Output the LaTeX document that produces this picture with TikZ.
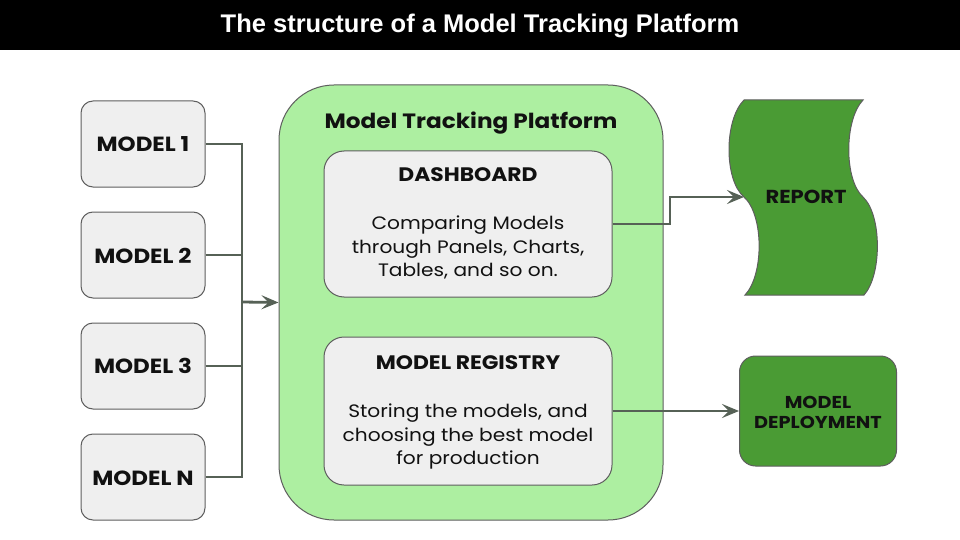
\documentclass[tikz,border=0pt]{standalone}
\usepackage{fontspec}
\setmainfont{Poppins}[FakeStretch=1.12]
\newfontfamily\titlefont{Liberation Sans}
\usetikzlibrary{arrows.meta}
\definecolor{lgreen}{HTML}{ADEFA1}
\definecolor{dgreen}{HTML}{4A9B34}
\definecolor{boxgray}{HTML}{EFEFEF}
\definecolor{edgegray}{HTML}{5E5E5E}
\definecolor{conncol}{HTML}{566156}
\definecolor{txt}{HTML}{111111}
\tikzset{
  modelbox/.style={draw=edgegray, line width=1pt, fill=boxgray, rounded corners=12pt,
    minimum width=124pt, minimum height=86pt, inner sep=0pt},
  modellabel/.style={text=txt, anchor=base, inner sep=0pt,
    font=\bfseries\fontsize{20.5}{24}\selectfont},
  innerbox/.style={draw=edgegray, line width=1pt, fill=boxgray, rounded corners=20pt,
    minimum width=288pt, inner sep=0pt},
  boxtitle/.style={text=txt, anchor=base, font=\bfseries\fontsize{19.5}{23}\selectfont, inner sep=0pt},
  boxbody/.style={text=txt, anchor=base, font=\fontsize{18}{24}\selectfont, inner sep=0pt},
  darklabel/.style={text=txt, anchor=base, inner sep=0pt},
  conn/.style={draw=conncol, line width=2.8pt},
  arr/.style={conn, -{Stealth[length=17pt,width=14pt,inset=7pt]}},
}
\begin{document}
\begin{tikzpicture}[x=1pt,y=-1pt]
\useasboundingbox (0,0) rectangle (960,540);
\fill[white] (0,0) rectangle (960,540);
\fill[black] (0,0) rectangle (960,50);
\node[font=\titlefont\bfseries\fontsize{25.5}{30}\selectfont, text=white, anchor=base, inner sep=0pt] (title) at (480,33) {The structure of a Model Tracking Platform};

% platform
\node[draw=edgegray, line width=1pt, fill=lgreen, rounded corners=55pt,
  minimum width=384pt, minimum height=435pt, inner sep=0pt] (plat) at (471,302.5) {};
\node[darklabel, font=\bfseries\fontsize{20.7}{24}\selectfont] (plattitle) at (471,129) {Model Tracking Platform};

% dashboard
\node[innerbox, minimum height=146pt] (dash) at (468,224) {};
\node[boxtitle] (dashtitle) at (468,182) {DASHBOARD};
\node[boxbody] (dashb1) at (468,229) {Comparing Models};
\node[boxbody] (dashb2) at (468,253) {through Panels, Charts,};
\node[boxbody] (dashb3) at (468,276) {Tables, and so on.};

% registry
\node[innerbox, minimum height=148pt] (reg) at (468,411) {};
\node[boxtitle] (regtitle) at (468,369) {MODEL REGISTRY};
\node[boxbody] (regb1) at (468,417) {Storing the models, and};
\node[boxbody] (regb2) at (468,441) {choosing the best model};
\node[boxbody] (regb3) at (468,464) {for production};

% models
\node[modelbox] (m1) at (143,144) {};
\node[modelbox] (m2) at (143,255) {};
\node[modelbox] (m3) at (143,366) {};
\node[modelbox] (mn) at (143,477) {};
\node[modellabel] (m1t) at (143,152) {MODEL 1};
\node[modellabel] (m2t) at (143,263) {MODEL 2};
\node[modellabel] (m3t) at (143,373) {MODEL 3};
\node[modellabel] (mnt) at (143,485) {MODEL N};

% report (tape shape)
\fill[dgreen, draw=edgegray, line width=1pt]
  (744,100) -- (863,100)
  .. controls (844,120) and (844,180) .. (863,197)
  .. controls (882,215) and (882,275) .. (864,295)
  -- (745,295)
  .. controls (764,275) and (764,215) .. (744,197)
  .. controls (724,180) and (724,120) .. (744,100) -- cycle;
\node[darklabel, font=\bfseries\fontsize{18.8}{22}\selectfont] (report) at (806,203) {REPORT};
\coordinate (repin) at (744,197);

% deployment
\node[draw=edgegray, line width=1pt, fill=dgreen, rounded corners=16pt,
  minimum width=157pt, minimum height=110pt, inner sep=0pt] (dep) at (818,411) {};
\node[darklabel, font=\bfseries\fontsize{17.2}{20}\selectfont] (dept1) at (818,408) {MODEL};
\node[darklabel, font=\bfseries\fontsize{17.2}{20}\selectfont] (dept2) at (818,428) {DEPLOYMENT};

% connectors
\coordinate (bus) at (242,302);
\draw[conn] (m1.east) -| (bus);
\draw[conn] (m2.east) -| (bus);
\draw[conn] (m3.east) -| (bus);
\draw[conn] (mn.east) -| (bus);
\draw[arr] (bus) -- (plat.west);
\coordinate (bend) at (670,197);
\draw[arr] (dash.east) -| (bend) -- (repin);
\draw[arr] (reg.east) -- (dep.west);
\end{tikzpicture}
\end{document}
